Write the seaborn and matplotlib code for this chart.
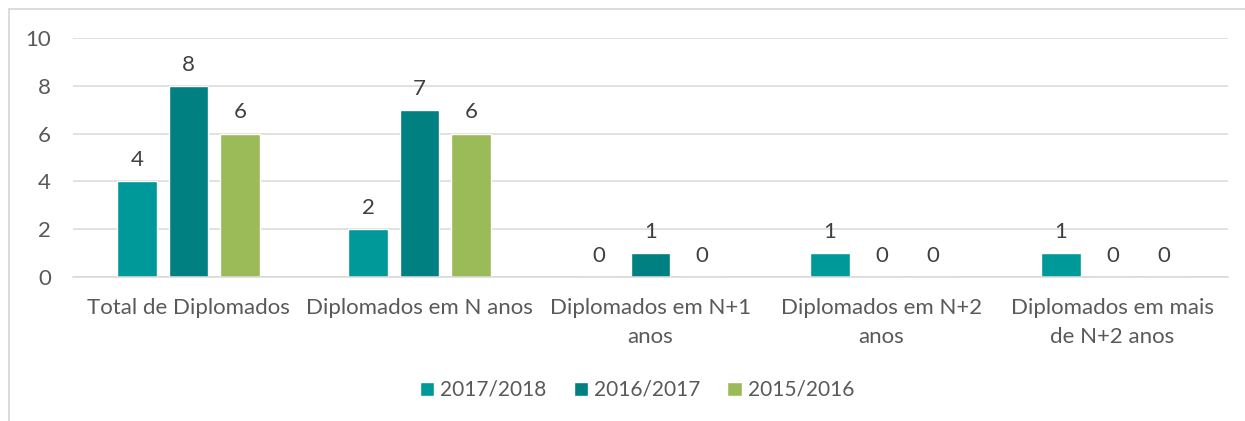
import matplotlib
matplotlib.use("Agg")
import matplotlib.pyplot as plt
from matplotlib.lines import Line2D
import seaborn as sns
import pandas as pd

# Graduates by time to completion, per academic year
categories = [
    "Total de Diplomados",
    "Diplomados em N anos",
    "Diplomados em N+1\nanos",
    "Diplomados em N+2\nanos",
    "Diplomados em mais\nde N+2 anos",
]
years = ["2017/2018", "2016/2017", "2015/2016"]
values_2017_2018 = [4, 2, 0, 1, 1]
values_2016_2017 = [8, 7, 1, 0, 0]
values_2015_2016 = [6, 6, 0, 0, 0]
y_ticks = [0, 2, 4, 6, 8, 10]

colors = ["#009999", "#008080", "#9BBB59"]
text_color = "#595959"
label_color = "#404040"
grid_color = "#D9D9D9"
fs = 16

df = pd.DataFrame({
    "categoria": categories * 3,
    "ano": [years[0]] * 5 + [years[1]] * 5 + [years[2]] * 5,
    "valor": values_2017_2018 + values_2016_2017 + values_2015_2016,
})

sns.set_theme(style="white")
plt.rcParams["font.family"] = ["Lato", "DejaVu Sans"]

fig = plt.figure(figsize=(12.45, 4.21), dpi=100)
ax = fig.add_axes([73 / 1245, 1 - 277 / 421, (1228 - 73) / 1245, (277 - 38) / 421])

sns.barplot(
    data=df, x="categoria", y="valor", hue="ano", hue_order=years,
    order=categories, palette=colors, width=0.669, gap=0.224,
    saturation=1, ax=ax, legend=True,
)

ax.set_xlim(-0.5, len(categories) - 0.5)
ax.set_ylim(0, 10)
ax.set_yticks(y_ticks)
ax.set_yticklabels([str(t) for t in y_ticks])
ax.set_xlabel("")
ax.set_ylabel("")

ax.yaxis.grid(True, color=grid_color, linewidth=1.1)
ax.set_axisbelow(True)
for side in ["top", "right", "left"]:
    ax.spines[side].set_visible(False)
ax.spines["bottom"].set_color(grid_color)
ax.spines["bottom"].set_linewidth(1.1)

ax.tick_params(axis="y", length=0, pad=16, labelsize=fs, labelcolor=text_color)
ax.tick_params(axis="x", length=0, pad=15, labelsize=fs, labelcolor=text_color)
for lbl in ax.get_xticklabels():
    lbl.set_linespacing(1.6)

for container in ax.containers:
    ax.bar_label(container, fmt="%g", padding=8, fontsize=fs, color=label_color)

handles, labels = ax.get_legend_handles_labels()
ax.legend_.remove()
fig.legend(
    handles, labels, loc="center", ncol=3, frameon=False,
    bbox_to_anchor=(637 / 1245, 1 - 390 / 421), bbox_transform=fig.transFigure,
    fontsize=15, labelcolor=text_color, handlelength=0.68, handleheight=0.68,
    handletextpad=0.3, columnspacing=1.3,
)

# chart frame
fig.add_artist(Line2D([8.5 / 1245, 1], [1 - 8.5 / 421] * 2,
                      transform=fig.transFigure, color=grid_color, linewidth=1.3))
fig.add_artist(Line2D([8.5 / 1245] * 2, [0, 1 - 8.5 / 421],
                      transform=fig.transFigure, color=grid_color, linewidth=1.3))

fig.savefig("out.png", dpi=100, facecolor="white")
